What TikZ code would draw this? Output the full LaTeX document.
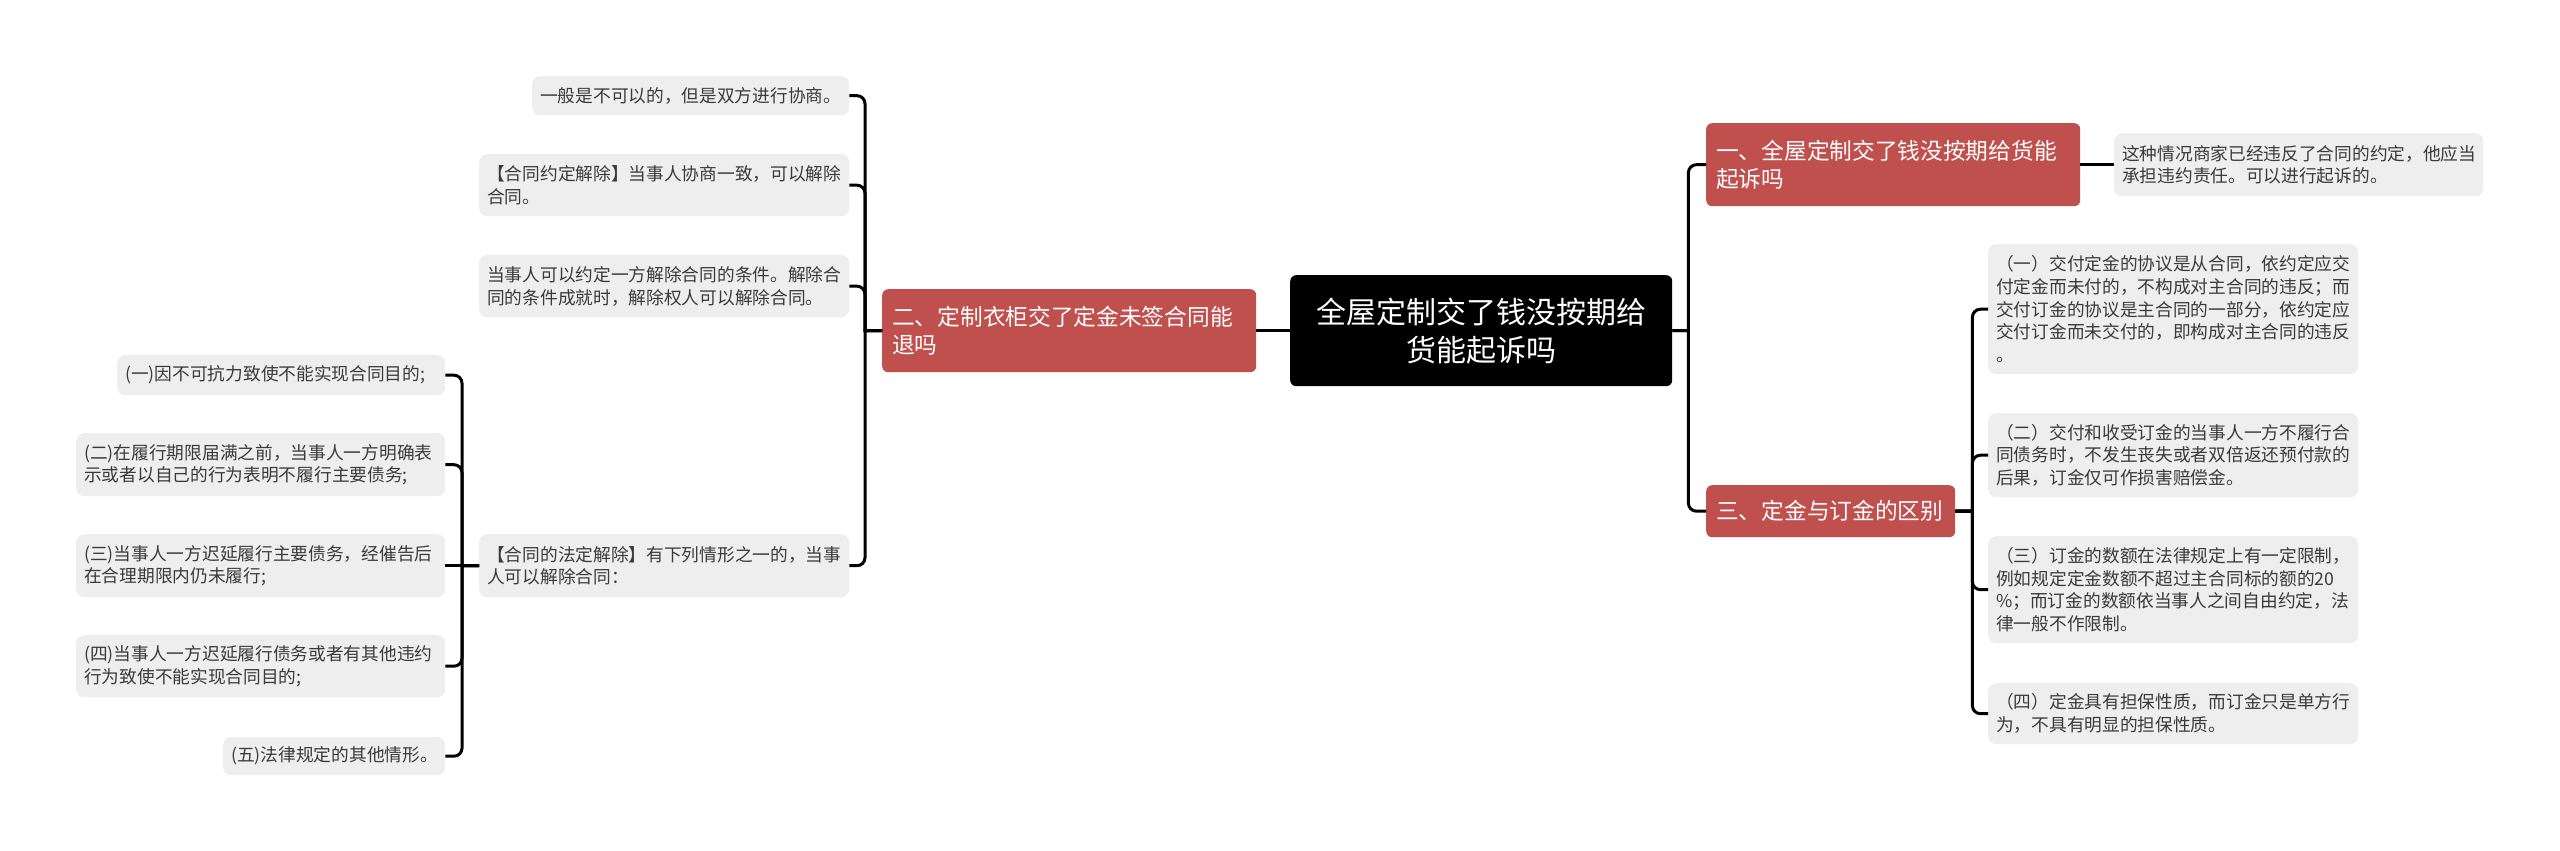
\documentclass[tikz,border=0pt]{standalone}
\usepackage{fontspec}
\newfontfamily\cjk{Noto Sans CJK SC}
\definecolor{branchred}{HTML}{C0504D}
\definecolor{leafgray}{HTML}{EEEEEE}
\definecolor{leaftext}{HTML}{3A3A3A}
\newcommand\lfont{\cjk\fontsize{17.7pt}{22.7pt}\selectfont}
\newcommand\bfont{\cjk\fontsize{22.7pt}{27.5pt}\selectfont}
\newcommand\rfont{\cjk\fontsize{30pt}{38pt}\selectfont}
\begin{document}
\begin{tikzpicture}[x=1pt,y=-1pt,
  base/.style={anchor=north west, inner ysep=0pt, align=left},
  leaf/.style={base, fill=leafgray, rounded corners=8pt, inner xsep=8pt, font=\lfont, text=leaftext},
  branch/.style={base, fill=branchred, rounded corners=6pt, inner xsep=10pt, font=\bfont, text=white},
  rootbox/.style={base, fill=black, rounded corners=6pt, inner xsep=10pt, font=\rfont, text=white, align=center},
  conn/.style={draw=black, line width=3pt}]
\useasboundingbox[fill=white] (0,0) rectangle (2560,851);

% root and branches
\node[rootbox, text width=362pt, minimum width=382pt, minimum height=111pt] (root) at (1290,275) {全屋定制交了钱没按期给\\货能起诉吗};
\node[branch, text width=354pt, minimum width=374pt, minimum height=83pt] (b2) at (882,289) {二、定制衣柜交了定金未签合同能\\退吗};
\node[branch, text width=354pt, minimum width=374pt, minimum height=83pt] (b1) at (1706,123) {一、全屋定制交了钱没按期给货能\\起诉吗};
\node[branch, text width=229pt, minimum width=249pt, minimum height=52pt] (b3) at (1706,485) {三、定金与订金的区别};

% branch 1 leaf
\node[leaf, text width=353pt, minimum width=369pt, minimum height=63pt] (b1l) at (2114,133) {这种情况商家已经违反了合同的约定，他应当\\承担违约责任。可以进行起诉的。};

% branch 2 leaves
\node[leaf, text width=301pt, minimum width=317pt, minimum height=39pt] (l1) at (532,76) {一般是不可以的，但是双方进行协商。};
\node[leaf, text width=354pt, minimum width=370pt, minimum height=62pt] (l2) at (479,154) {【合同约定解除】当事人协商一致，可以解除\\合同。};
\node[leaf, text width=354pt, minimum width=370pt, minimum height=62pt] (l3) at (479,255) {当事人可以约定一方解除合同的条件。解除合\\同的条件成就时，解除权人可以解除合同。};
\node[leaf, text width=354pt, minimum width=370pt, minimum height=63pt] (l4) at (479,534) {【合同的法定解除】有下列情形之一的，当事\\人可以解除合同：};

% L4 children
\node[leaf, text width=312pt, minimum width=328pt, minimum height=40pt] (c1) at (117,355) {(一)因不可抗力致使不能实现合同目的;};
\node[leaf, text width=353pt, minimum width=369pt, minimum height=63pt] (c2) at (76,433) {(二)在履行期限届满之前，当事人一方明确表\\示或者以自己的行为表明不履行主要债务;};
\node[leaf, text width=353pt, minimum width=369pt, minimum height=63pt] (c3) at (76,534) {(三)当事人一方迟延履行主要债务，经催告后\\在合理期限内仍未履行;};
\node[leaf, text width=353pt, minimum width=369pt, minimum height=62pt] (c4) at (76,635) {(四)当事人一方迟延履行债务或者有其他违约\\行为致使不能实现合同目的;};
\node[leaf, text width=206pt, minimum width=222pt, minimum height=38pt] (c5) at (223,737) {(五)法律规定的其他情形。};

% branch 3 leaves
\node[leaf, text width=354pt, minimum width=370pt, minimum height=130pt] (r1) at (1988,244) {（一）交付定金的协议是从合同，依约定应交\\付定金而未付的，不构成对主合同的违反；而\\交付订金的协议是主合同的一部分，依约定应\\交付订金而未交付的，即构成对主合同的违反\\。};
\node[leaf, text width=354pt, minimum width=370pt, minimum height=84pt] (r2) at (1988,413) {（二）交付和收受订金的当事人一方不履行合\\同债务时，不发生丧失或者双倍返还预付款的\\后果，订金仅可作损害赔偿金。};
\node[leaf, text width=354pt, minimum width=370pt, minimum height=107pt] (r3) at (1988,536) {（三）订金的数额在法律规定上有一定限制，\\例如规定定金数额不超过主合同标的额的20\\\%；而订金的数额依当事人之间自由约定，法\\律一般不作限制。};
\node[leaf, text width=354pt, minimum width=370pt, minimum height=61pt] (r4) at (1988,683) {（四）定金具有担保性质，而订金只是单方行\\为，不具有明显的担保性质。};

% connectors: sharp junction at the parent side, rounded corner at the child end
\draw[conn] (root.west) -- (b2.east);
\foreach \t in {l1,l2,l3,l4}
  \draw[conn] (b2.west) -- ++(-17,0) coordinate (j) [rounded corners=8pt] -- (j |- \t.east) -- (\t.east);
\foreach \t in {c1,c2,c4,c5}
  \draw[conn] (l4.west) -- ++(-17,0) coordinate (j) [rounded corners=8pt] -- (j |- \t.east) -- (\t.east);
\draw[conn] (l4.west) -- (c3.east);
\foreach \t in {b1,b3}
  \draw[conn] (root.east) -- ++(16,0) coordinate (j) [rounded corners=8pt] -- (j |- \t.west) -- (\t.west);
\draw[conn] (b1.east) -- (b1l.west);
\foreach \t in {r1,r2,r3,r4}
  \draw[conn] (b3.east) -- ++(17,0) coordinate (j) [rounded corners=8pt] -- (j |- \t.west) -- (\t.west);
\end{tikzpicture}
\end{document}
